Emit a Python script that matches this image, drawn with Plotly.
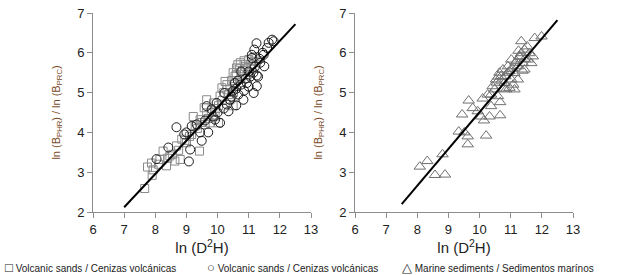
import plotly.graph_objects as go

# Left panel: volcanic sands (squares, gray) and volcanic ashes (circles, black)
sq_x = [7.66, 7.75, 7.88, 7.93, 7.9, 8.15, 8.25, 8.36, 8.47, 8.63, 8.8, 8.68, 8.85, 9.0, 9.42,
        9.17, 9.28, 9.22, 9.44, 9.57, 9.65, 9.76, 9.92, 10.03, 9.87, 10.08, 10.14, 10.24, 10.3,
        10.4, 10.51, 10.56, 10.61, 10.73, 10.89, 11.0, 11.16, 10.5, 10.03, 9.65,
        10.2, 10.3, 10.45, 10.6, 10.7, 10.8, 10.9, 11.05, 10.35, 10.15, 9.95, 9.8, 9.7, 9.6,
        9.5, 9.35, 9.1, 8.95, 8.75, 8.55, 8.4, 8.1, 10.55, 10.75, 10.95, 11.1, 10.5, 10.65,
        10.85, 11.2]
sq_y = [2.59, 3.13, 3.23, 3.06, 2.92, 3.32, 3.53, 3.16, 3.41, 3.28, 3.32, 3.66, 3.83, 3.74, 3.53,
        3.95, 4.16, 4.4, 4.32, 4.62, 4.49, 4.24, 4.41, 4.24, 4.74, 4.91, 5.12, 5.28, 5.07,
        4.82, 5.0, 5.41, 5.62, 5.75, 5.71, 5.83, 5.79, 4.67, 4.67, 4.82,
        5.0, 5.2, 5.3, 5.45, 5.6, 5.55, 5.65, 5.7, 4.95, 4.8, 4.6, 4.5, 4.35, 4.2,
        4.25, 4.1, 3.9, 3.8, 3.55, 3.45, 3.35, 3.2, 5.15, 5.35, 5.45, 5.6, 5.5, 5.7,
        5.8, 5.9]

ci_x = [8.04, 8.42, 8.68, 8.93, 9.08, 9.12, 9.17, 9.33, 9.49, 9.44, 9.7, 9.81, 9.97, 10.08,
        10.35, 10.4, 10.6, 10.67, 10.83, 10.94, 11.0, 11.16, 11.26, 11.26, 11.18, 11.25, 11.37,
        11.48, 11.5, 11.59, 11.64, 11.75, 11.8, 11.1, 10.76, 10.55, 10.22, 9.92, 9.0, 9.65,
        10.3, 10.45, 10.6, 10.75, 10.9, 11.05, 11.15, 10.5, 10.85, 11.2, 11.35, 11.45, 10.2,
        10.0, 9.85, 9.6, 11.0, 11.3, 10.65, 11.1]
ci_y = [3.33, 3.62, 4.13, 3.95, 3.27, 3.57, 4.16, 4.2, 3.79, 4.0, 4.0, 4.58, 4.74, 4.24,
        4.53, 4.82, 4.68, 4.95, 4.82, 5.24, 5.53, 4.99, 5.16, 5.43, 6.08, 6.24, 5.75,
        5.95, 5.66, 6.12, 6.25, 6.33, 6.29, 5.87, 5.53, 5.24, 4.99, 4.32, 4.0, 4.66,
        4.7, 4.9, 5.1, 5.2, 5.35, 5.4, 5.5, 5.05, 5.05, 5.65, 5.85, 6.0, 4.6,
        4.5, 4.4, 4.3, 5.15, 5.4, 5.3, 5.95]

# Right panel: marine sediments (triangles)
tr_x = [8.08, 8.32, 8.57, 8.89, 8.81, 9.33, 9.44, 9.51, 9.62, 9.62, 9.65, 9.78, 9.94, 10.05,
        10.14, 10.21, 10.1, 10.26, 10.32, 10.37, 10.66, 10.66, 10.48, 10.59, 10.53, 10.69,
        10.8, 10.85, 10.96, 11.12, 10.91, 11.02, 11.12, 11.23, 11.28, 11.34, 11.44, 11.53,
        11.66, 11.71, 11.77, 11.99, 10.75, 10.64, 11.23, 11.39, 11.34, 11.18, 10.83, 10.37,
        11.02, 11.55, 11.44, 11.6, 10.42, 10.96,
        10.55, 10.7, 10.9, 11.05, 11.15, 11.3, 11.45, 11.25, 10.6, 10.78, 11.08, 11.38]
tr_y = [3.14, 3.28, 2.93, 2.94, 3.45, 4.02, 4.45, 4.0, 3.9, 3.7, 4.8, 4.61, 4.53, 4.4,
        4.3, 3.92, 4.85, 4.95, 4.4, 4.66, 4.43, 4.76, 5.08, 4.91, 5.33, 5.41,
        5.24, 5.08, 5.12, 5.08, 5.66, 5.83, 5.49, 5.33, 5.91, 6.29, 5.58, 6.16,
        5.74, 5.91, 6.37, 6.41, 5.58, 5.5, 5.66, 5.74, 5.99, 5.79, 5.41, 4.95,
        5.33, 5.83, 6.08, 5.99, 5.16, 5.54,
        5.25, 5.3, 5.5, 5.6, 5.75, 5.9, 5.85, 6.05, 5.4, 5.1, 5.2, 5.55]

# Fitted lines (endpoints)
fit1_x = [7.0, 12.5]
fit1_y = [2.12, 6.72]
fit2_x = [7.5, 12.5]
fit2_y = [2.2, 6.82]

x_ticks = [6, 7, 8, 9, 10, 11, 12, 13]
y_ticks = [2, 3, 4, 5, 6, 7]

legend_symbols = ["□", "○", "△"]
legend_labels = ["Volcanic sands / Cenizas volcánicas",
                 "Volcanic sands / Cenizas volcánicas",
                 "Marine sediments / Sedimentos marínos"]

FONT = "Liberation Sans, Arial, sans-serif"

fig = go.Figure()
fig.add_trace(go.Scatter(x=sq_x, y=sq_y, mode="markers", xaxis="x", yaxis="y",
                         marker=dict(symbol="square-open", size=8, color="#8a8a8a",
                                     line=dict(width=1))))
fig.add_trace(go.Scatter(x=ci_x, y=ci_y, mode="markers", xaxis="x", yaxis="y",
                         marker=dict(symbol="circle-open", size=9, color="#1a1a1a",
                                     line=dict(width=1))))
fig.add_trace(go.Scatter(x=fit1_x, y=fit1_y, mode="lines", xaxis="x", yaxis="y",
                         line=dict(color="black", width=2)))
fig.add_trace(go.Scatter(x=tr_x, y=tr_y, mode="markers", xaxis="x2", yaxis="y2",
                         marker=dict(symbol="triangle-up-open", size=10, color="#707070",
                                     line=dict(width=1))))
fig.add_trace(go.Scatter(x=fit2_x, y=fit2_y, mode="lines", xaxis="x2", yaxis="y2",
                         line=dict(color="black", width=2)))

ytitle = "ln (B<sub>PHR</sub>) / ln (B<sub>PRC</sub>)"

def xa(domain, anchor):
    return dict(domain=domain, anchor=anchor, range=[6, 13], tickvals=x_ticks,
                automargin=False,
                showgrid=False, zeroline=False, showline=True, linecolor="#8c8c8c",
                linewidth=1, ticks="outside", ticklen=5, tickcolor="#8c8c8c",
                tickfont=dict(size=13, color="#222", family=FONT),
                title=dict(text="ln (D<sup>2</sup>H)", standoff=2,
                           font=dict(size=15, color="#222", family=FONT)))

def ya(anchor):
    return dict(domain=[0, 1], anchor=anchor, range=[2, 7], tickvals=y_ticks,
                automargin=False,
                showgrid=False, zeroline=False, showline=True, linecolor="#8c8c8c",
                linewidth=1, ticks="outside", ticklen=5, tickcolor="#8c8c8c",
                tickfont=dict(size=13, color="#222", family=FONT),
                title=dict(text=ytitle, standoff=14,
                           font=dict(size=11, color="#7a4a26", family=FONT)))

annotations = []
for sym, txt, xpos in zip(legend_symbols, legend_labels, [3, 205, 400]):
    annotations.append(dict(text=f"<span style='font-size:13px'>{sym}</span> {txt}",
                            x=xpos / 624, y=(212 - 267) / 199, xref="paper",
                            yref="paper", xanchor="left", yanchor="middle", showarrow=False,
                            font=dict(size=10, color="#222", family=FONT)))

fig.update_layout(
    width=624, height=275,
    margin=dict(l=0, r=0, t=13, b=63, autoexpand=False),
    paper_bgcolor="white", plot_bgcolor="white",
    showlegend=False,
    xaxis=xa([93 / 624, 311 / 624], "y"),
    yaxis=ya("x"),
    xaxis2=xa([355 / 624, 573 / 624], "y2"),
    yaxis2=ya("x2"),
    annotations=annotations,
)

fig.write_html("out.html", config={"displayModeBar": False},
               post_script="document.body.style.margin='0';document.body.style.overflow='hidden';")
